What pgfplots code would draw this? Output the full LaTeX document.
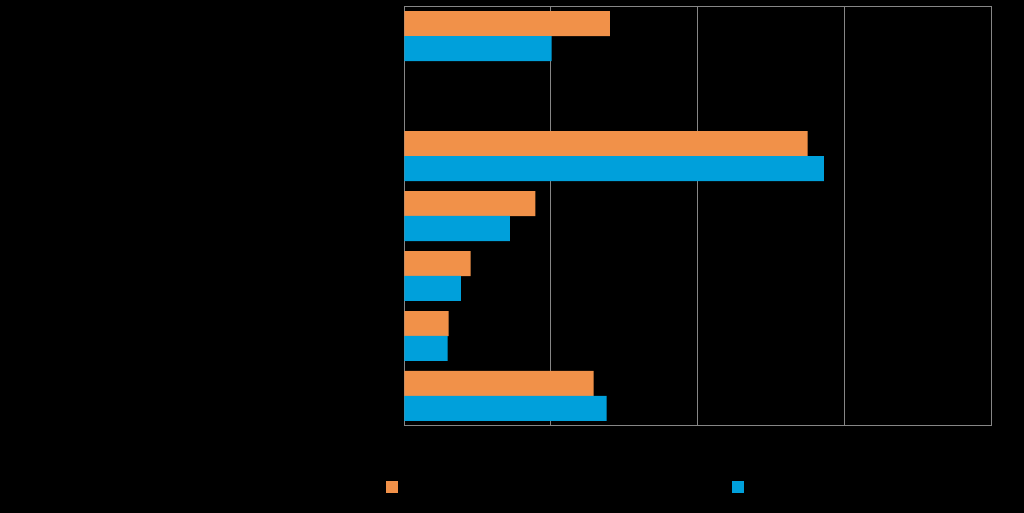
\documentclass[border=0pt]{standalone}
\usepackage{pgfplots}
\pgfplotsset{compat=1.18}
\definecolor{barorange}{RGB}{241,145,73}
\definecolor{barblue}{RGB}{0,160,219}
\definecolor{gridgray}{RGB}{134,134,134}
\begin{document}
\begin{tikzpicture}
\fill[black] (0,0) rectangle (512pt,256.5pt);
\useasboundingbox (0,0) rectangle (512pt,256.5pt);
\begin{axis}[
  at={(202.15pt,43.5pt)}, anchor=south west,
  scale only axis,
  width=293.35pt, height=210pt,
  xbar,
  xmin=0, xmax=40,
  ymin=0.5, ymax=7.5,
  xtick={0,10,20,30,40},
  ytick=\empty,
  xticklabels={},
  major tick length=0pt,
  xmajorgrids,
  grid style={gridgray, line width=0.5pt},
  axis line style={gridgray, line width=0.5pt},
  bar width=0.4167,
  legend image code/.code={\fill[#1] (0pt,-3pt) rectangle (6pt,3pt);},
  legend style={draw=none, fill=none, inner sep=0pt,
    nodes={inner sep=0pt},
    at={(-0.0312,-0.1452)}, anchor=west,
    legend columns=2,
    /tikz/every even column/.append style={column sep=166pt}},
]
\addplot[fill=barorange, draw=none, bar shift=0.2083] coordinates {
  (14.02,7) (27.5,5) (8.93,4) (4.53,3) (3.03,2) (12.91,1)};
\addlegendentry{}
\addplot[fill=barblue, draw=none, bar shift=-0.2083] coordinates {
  (10.05,7) (28.6,5) (7.2,4) (3.86,3) (2.96,2) (13.8,1)};
\addlegendentry{}
\end{axis}
\end{tikzpicture}
\end{document}
